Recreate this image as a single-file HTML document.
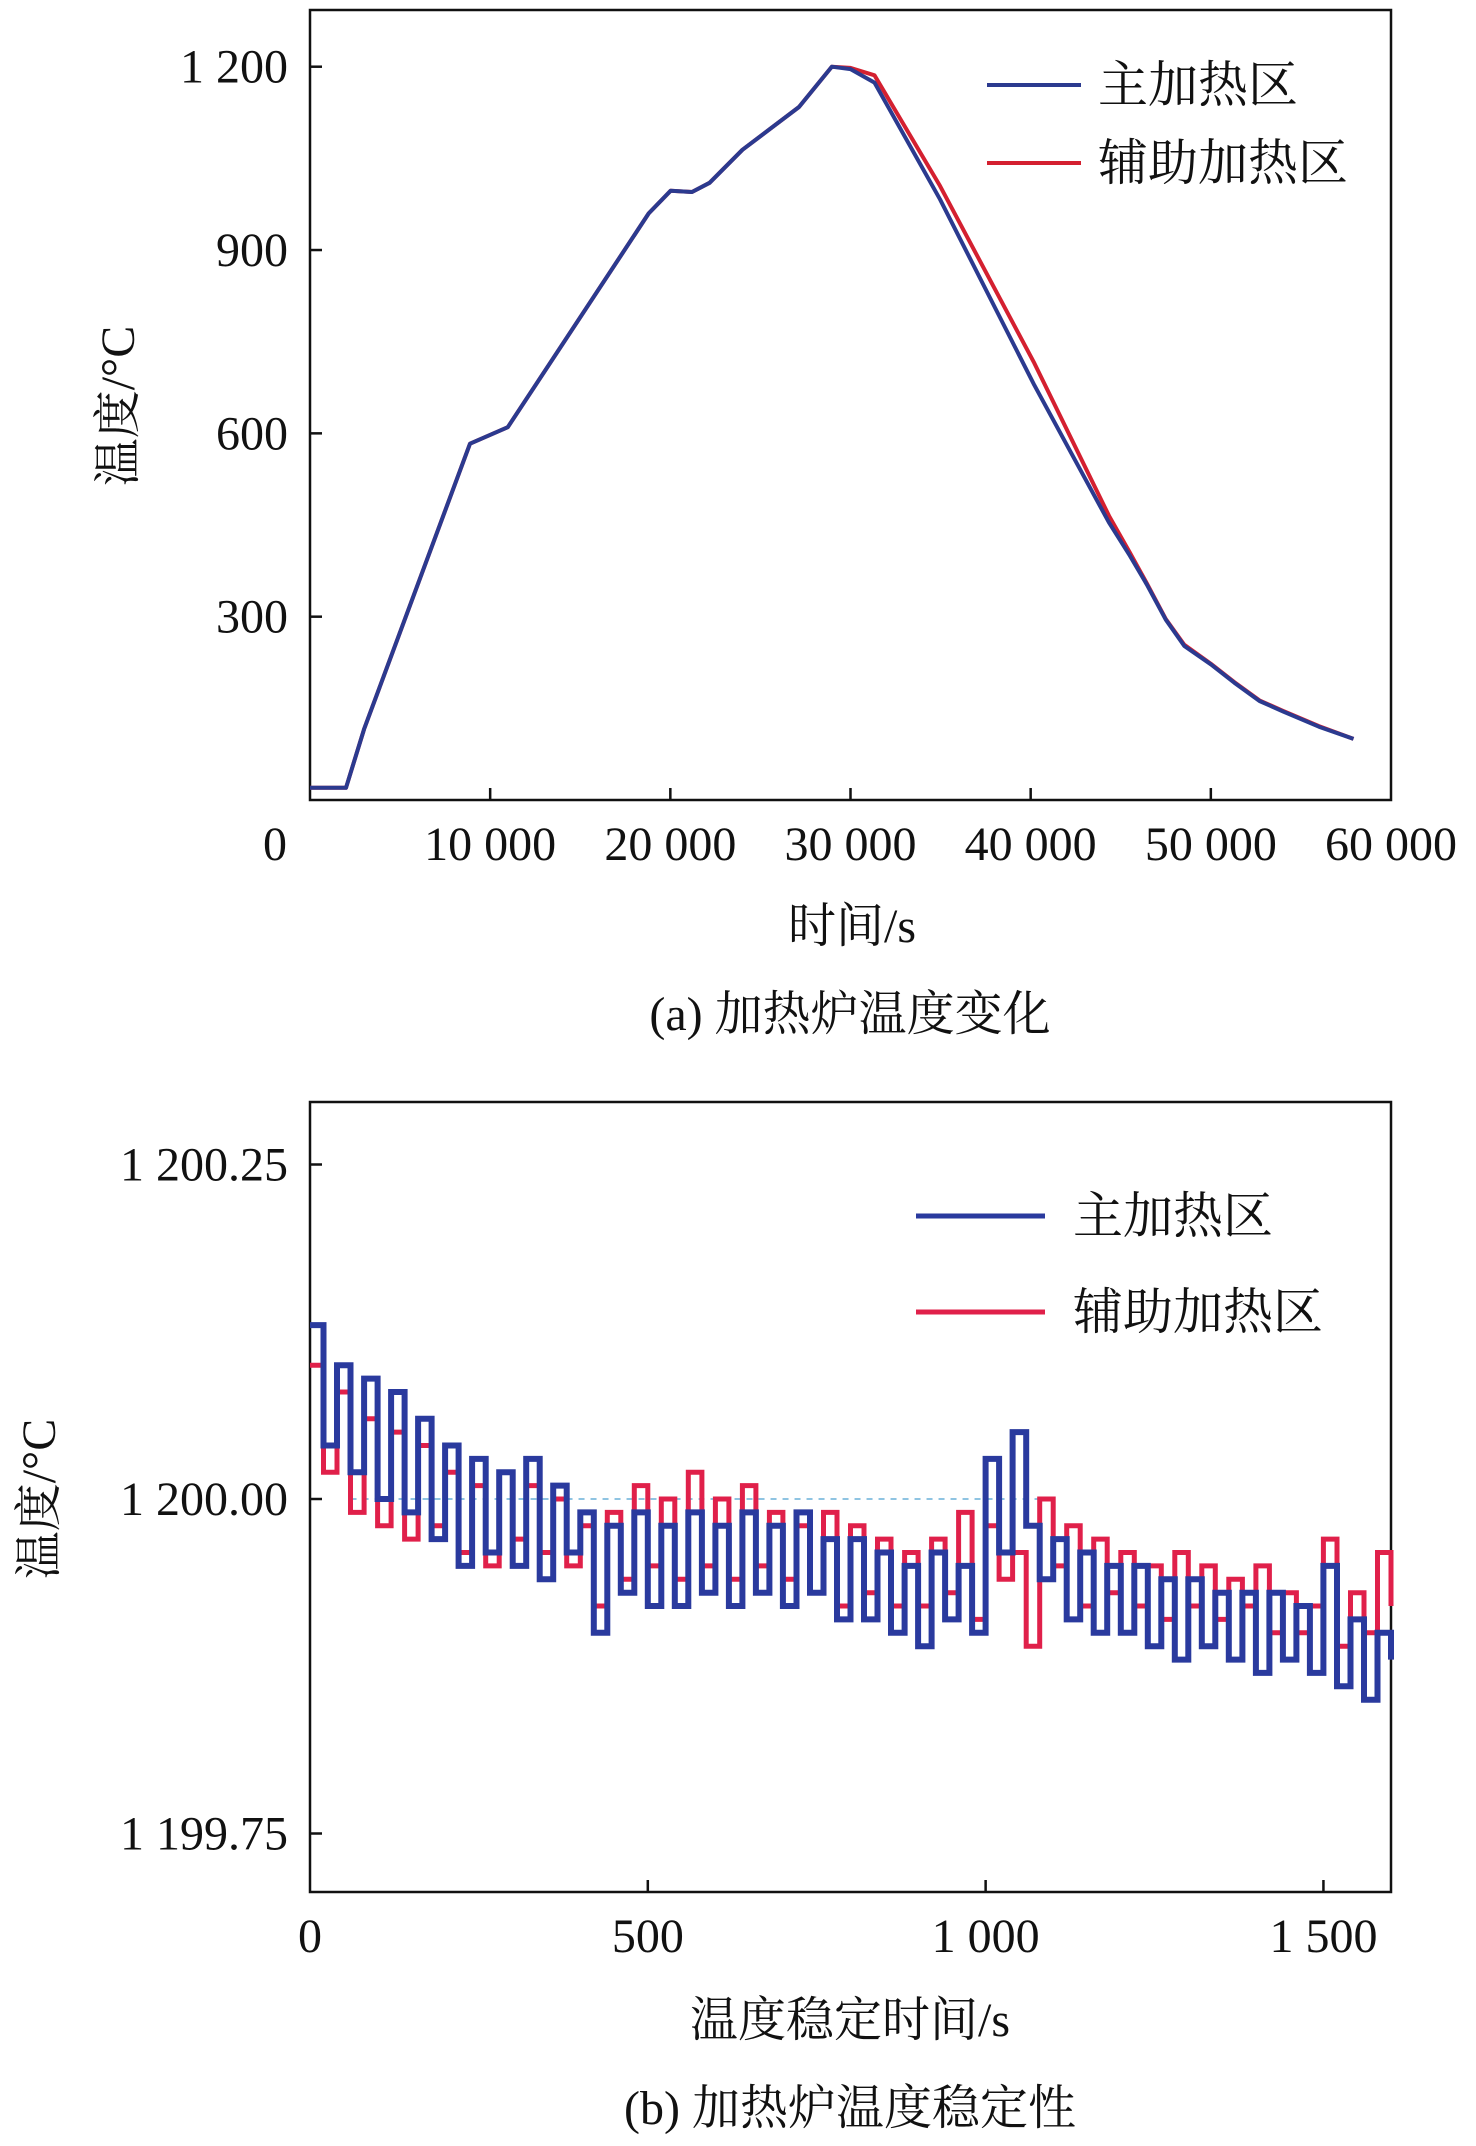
<!DOCTYPE html>
<html><head><meta charset="utf-8"><style>
html,body{margin:0;padding:0;background:#fff;}
svg{display:block;}
text{font-family:"Liberation Serif","Noto Serif CJK SC",serif;fill:#111;}
</style></head><body>
<svg id="fig" width="1476" height="2146" viewBox="0 0 1476 2146" xmlns="http://www.w3.org/2000/svg">
<g id="chartA"></g>
<g id="chartB"></g>
</svg>
<script>
// ---- Chart (a) data ----
const aMainTime = [0,2000,3000,8880,10980,18800,20020,21200,22180,24000,27140,28960,30000,31330,34970,40200,44350,45500,46440,47500,48530,50000,51300,52700,54000,56000,57920];
const aMainTemp = [20,20,116,583,610,960,997,995,1010,1064,1134,1200,1196,1174,983,679,454,400,353,295,252,222,192,162,145,120,100];
const aAuxTime = [0,2000,3000,8880,10980,18800,20020,21200,22180,24000,27140,28960,30000,31330,34970,40200,44350,45500,46440,47500,48530,50000,51300,52700,54000,56000,57920];
const aAuxTemp = [20,20,116,583,610,960,997,995,1010,1064,1134,1200,1198,1186,1005,715,465,405,355,296,254,223,193,163,146,121,100];
const aXTicks = [0,10000,20000,30000,40000,50000,60000];
const aXTickLabels = ["0","10 000","20 000","30 000","40 000","50 000","60 000"];
const aYTicks = [300,600,900,1200];
const aYTickLabels = ["300","600","900","1 200"];

// ---- Chart (b) data ----
const bTime = [0,20,40,60,80,100,120,140,160,180,200,220,240,260,280,300,320,340,360,380,400,420,440,460,480,500,520,540,560,580,600,620,640,660,680,700,720,740,760,780,800,820,840,860,880,900,920,940,960,980,1000,1020,1040,1060,1080,1100,1120,1140,1160,1180,1200,1220,1240,1260,1280,1300,1320,1340,1360,1380,1400,1420,1440,1460,1480,1500,1520,1540,1560,1580,1600];
const bMain = [1200.13,1200.04,1200.10,1200.02,1200.09,1200.00,1200.08,1199.99,1200.06,1199.97,1200.04,1199.95,1200.03,1199.96,1200.02,1199.95,1200.03,1199.94,1200.01,1199.96,1199.99,1199.90,1199.98,1199.93,1199.99,1199.92,1199.98,1199.92,1199.99,1199.93,1199.98,1199.92,1199.99,1199.93,1199.98,1199.92,1199.99,1199.93,1199.97,1199.91,1199.97,1199.91,1199.96,1199.90,1199.95,1199.89,1199.96,1199.91,1199.95,1199.90,1200.03,1199.96,1200.05,1199.98,1199.94,1199.97,1199.91,1199.96,1199.90,1199.95,1199.90,1199.95,1199.89,1199.94,1199.88,1199.94,1199.89,1199.93,1199.88,1199.93,1199.87,1199.93,1199.88,1199.92,1199.87,1199.95,1199.86,1199.91,1199.85,1199.90,1199.88];
const bAux = [1200.10,1200.02,1200.08,1199.99,1200.06,1199.98,1200.05,1199.97,1200.04,1199.98,1200.02,1199.96,1200.01,1199.95,1200.02,1199.97,1200.01,1199.96,1200.00,1199.95,1199.98,1199.92,1199.99,1199.94,1200.01,1199.95,1200.00,1199.94,1200.02,1199.95,1200.00,1199.94,1200.01,1199.95,1199.99,1199.94,1199.98,1199.93,1199.99,1199.92,1199.98,1199.93,1199.97,1199.92,1199.96,1199.92,1199.97,1199.93,1199.99,1199.91,1199.98,1199.94,1199.96,1199.89,1200.00,1199.95,1199.98,1199.92,1199.97,1199.93,1199.96,1199.92,1199.95,1199.91,1199.96,1199.92,1199.95,1199.91,1199.94,1199.92,1199.95,1199.90,1199.93,1199.90,1199.92,1199.97,1199.89,1199.93,1199.90,1199.96,1199.92];
const bXTicks = [0,500,1000,1500];
const bXTickLabels = ["0","500","1 000","1 500"];
const bYTicks = [1199.75,1200.00,1200.25];
const bYTickLabels = ["1 199.75","1 200.00","1 200.25"];

const NS = "http://www.w3.org/2000/svg";
function mk(parent, tag, attrs, txt){
  const e = document.createElementNS(NS, tag);
  for (const k in attrs) e.setAttribute(k, attrs[k]);
  if (txt !== undefined) e.textContent = txt;
  parent.appendChild(e);
  return e;
}

// ---------- Chart A ----------
(function(){
  const g = document.getElementById('chartA');
  const L=310,R=1391,T=10,B=800;
  const xs = v => L + (v-0)/(60000-0)*(R-L);
  const ys = v => B - v*(B-66.7)/1200;
  const box = mk(g,'rect',{x:L,y:T,width:R-L,height:B-T,fill:'none',stroke:'#111','stroke-width':2.5});
  
  
  aXTicks.forEach((t,i)=>{
    if(i>0 && i<aXTicks.length-1){
      const tk = mk(g,'line',{x1:xs(t),x2:xs(t),y1:B,y2:B-12,stroke:'#111','stroke-width':2.5});
      
      
    }
    const lx = i===0 ? 275 : xs(t);
    const tl = mk(g,'text',{x:lx,y:860,'font-size':48,'text-anchor':'middle'},aXTickLabels[i]);
    
    
  });
  aYTicks.forEach((t,i)=>{
    const tk = mk(g,'line',{x1:L,x2:L+12,y1:ys(t),y2:ys(t),stroke:'#111','stroke-width':2.5});
    
    
    const tl = mk(g,'text',{x:288,y:ys(t)+16,'font-size':48,'text-anchor':'end'},aYTickLabels[i]);
    
    
  });
  const xt = mk(g,'text',{x:852,y:942,'font-size':48,'text-anchor':'middle'},'时间/s');
  
  
  const yt = mk(g,'text',{x:0,y:0,'font-size':48,'text-anchor':'middle',transform:'translate(134,406) rotate(-90)'},'温度/°C');
  
  
  const cap = mk(g,'text',{x:850,y:1030,'font-size':48,'text-anchor':'middle'},'(a) 加热炉温度变化');
  
  
  const dAux = aAuxTime.map((t,i)=>(i?'L':'M')+xs(t).toFixed(1)+','+ys(aAuxTemp[i]).toFixed(1)).join(' ');
  const aux = mk(g,'path',{d:dAux,fill:'none',stroke:'#d42030','stroke-width':4,'stroke-linejoin':'round'});
  
  
  const dMain = aMainTime.map((t,i)=>(i?'L':'M')+xs(t).toFixed(1)+','+ys(aMainTemp[i]).toFixed(1)).join(' ');
  const main = mk(g,'path',{d:dMain,fill:'none',stroke:'#2b3a8f','stroke-width':4,'stroke-linejoin':'round'});
  
  
  const l1 = mk(g,'line',{x1:987,x2:1081,y1:85,y2:85,stroke:'#2b3a8f','stroke-width':4});
  
  
  const t1 = mk(g,'text',{x:1098,y:102,'font-size':50},'主加热区');
  
  
  const l2 = mk(g,'line',{x1:987,x2:1081,y1:163,y2:163,stroke:'#d42030','stroke-width':4});
  
  
  const t2 = mk(g,'text',{x:1098,y:180,'font-size':50},'辅助加热区');
  
  
})();

// ---------- Chart B ----------
(function(){
  const g = document.getElementById('chartB');
  const L=310,R=1391,T=1102,B=1892;
  const xs = v => L + v/1600*(R-L);
  const ys = v => 1499 - (v-1200)*(1499-1164.5)/0.25;
  const box = mk(g,'rect',{x:L,y:T,width:R-L,height:B-T,fill:'none',stroke:'#111','stroke-width':2.5});
  
  
  bXTicks.forEach((t,i)=>{
    if(i>0){
      const tk = mk(g,'line',{x1:xs(t),x2:xs(t),y1:B,y2:B-12,stroke:'#111','stroke-width':2.5});
      
      
    }
    const tl = mk(g,'text',{x:xs(t),y:1952,'font-size':48,'text-anchor':'middle'},bXTickLabels[i]);
    
    
  });
  bYTicks.forEach((t,i)=>{
    const tk = mk(g,'line',{x1:L,x2:L+12,y1:ys(t),y2:ys(t),stroke:'#111','stroke-width':2.5});
    
    
    const tl = mk(g,'text',{x:288,y:ys(t)+16,'font-size':48,'text-anchor':'end'},bYTickLabels[i]);
    
    
  });
  const ref = mk(g,'line',{x1:xs(60),x2:xs(1090),y1:ys(1200),y2:ys(1200),stroke:'#6ab0d8','stroke-width':1.5,'stroke-dasharray':'6 6'});
  
  
  const xt = mk(g,'text',{x:850,y:2036,'font-size':48,'text-anchor':'middle'},'温度稳定时间/s');
  
  
  const yt = mk(g,'text',{x:0,y:0,'font-size':48,'text-anchor':'middle',transform:'translate(55,1499) rotate(-90)'},'温度/°C');
  
  
  const cap = mk(g,'text',{x:850,y:2124,'font-size':48,'text-anchor':'middle'},'(b) 加热炉温度稳定性');
  
  
  function stepPath(vals){
    let d='';
    bTime.forEach((t,i)=>{
      const x=xs(t).toFixed(1), y=ys(vals[i]).toFixed(1);
      if(i===0) d+='M'+x+','+y;
      else { d+=' L'+x+','+ys(vals[i-1]).toFixed(1)+' L'+x+','+y; }
    });
    return d;
  }
  const aux = mk(g,'path',{d:stepPath(bAux),fill:'none',stroke:'#e0204a','stroke-width':5});
  
  
  const main = mk(g,'path',{d:stepPath(bMain),fill:'none',stroke:'#2a3a9e','stroke-width':6});
  
  
  const l1 = mk(g,'line',{x1:916,x2:1045,y1:1216,y2:1216,stroke:'#2a3a9e','stroke-width':5});
  
  
  const t1 = mk(g,'text',{x:1073,y:1233,'font-size':50},'主加热区');
  
  
  const l2 = mk(g,'line',{x1:916,x2:1045,y1:1312,y2:1312,stroke:'#e0204a','stroke-width':5});
  
  
  const t2 = mk(g,'text',{x:1073,y:1329,'font-size':50},'辅助加热区');
  
  
})();
</script>
</body></html>
